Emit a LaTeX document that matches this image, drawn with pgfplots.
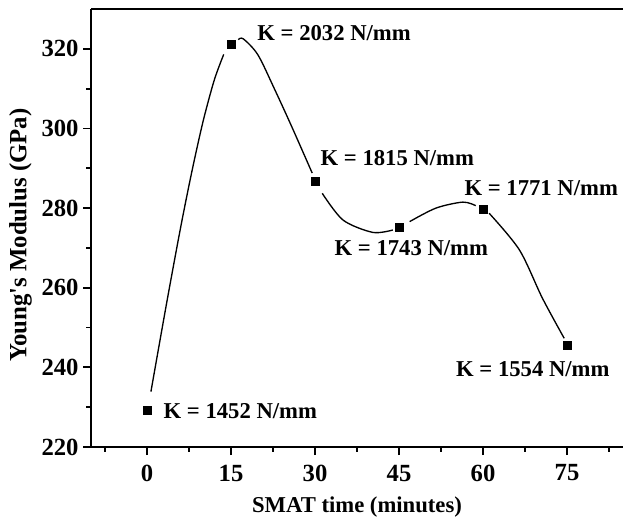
\documentclass[border=0pt]{standalone}
\usepackage{fontspec}
\setmainfont{Liberation Serif}
\usepackage{pgfplots}
\pgfplotsset{compat=1.18}

\begin{document}
\begin{tikzpicture}
\fontsize{17}{20}\selectfont\bfseries
\begin{axis}[
    scale only axis,
    width=399pt, height=328.5pt,
    xmin=-10, xmax=85,
    ymin=220, ymax=330,
    axis lines=left,
    axis line style={-, line width=1.4pt},
    xtick={0,15,30,45,60,75},
    minor xtick={-7.5,7.5,22.5,37.5,52.5,67.5,82.5},
    ytick={220,240,260,280,300,320},
    minor ytick={230,250,270,290,310},
    tick align=outside,
    major tick length=6pt,
    minor tick length=3.5pt,
    every tick/.style={black, line width=1.4pt},
    ticklabel style={font=\fontsize{18.5}{20}\selectfont\bfseries},
    /pgf/number format/assume math mode=true,
    xticklabel style={yshift=-1.5pt},
    yticklabel style={xshift=2.5pt},
    clip=false,
  ]
  % curve (drawn in pieces, gaps around markers as in the original)
  \addplot[smooth, line width=1pt] coordinates {
    (0.7,233.9) (3.5,256.1) (6.0,275.1) (8.0,289.1) (10.0,301.7) (12.0,312.1) (13.7,318.6)
  };
  \addplot[smooth, line width=1pt] coordinates {
    (16.3,322.3) (17.2,322.5) (19.8,318.5) (22.8,309.8) (25.8,300.6) (29.5,288.8)
  };
  \addplot[smooth, line width=1pt] coordinates {
    (31.3,283.7) (35.0,277.0) (40.3,273.9) (43.9,274.5)
  };
  \addplot[smooth, line width=1pt] coordinates {
    (46.9,276.6) (51.6,280.0) (56.4,281.5) (58.7,280.6)
  };
  \addplot[smooth, line width=1pt] coordinates {
    (61.1,278.7) (66.5,269.5) (70.6,257.4) (74.5,247.3)
  };
  % measured points
  \addplot[only marks, mark=square*, mark size=3pt, black] coordinates {
    (0,229.3) (15,321.1) (30,286.8) (45,275.2) (60,279.7) (75,245.5)
  };
  \draw[line width=1.4pt] (rel axis cs:0,1) -- (rel axis cs:1,1);

  \node at (axis cs:16.66,228.9) {K = 1452 N/mm};
  \node at (axis cs:33.4,323.9) {K = 2032 N/mm};
  \node at (axis cs:44.7,292.5) {K = 1815 N/mm};
  \node at (axis cs:47.2,269.9) {K = 1743 N/mm};
  \node at (axis cs:70.4,285.0) {K = 1771 N/mm};
  \node at (axis cs:68.9,239.5) {K = 1554 N/mm};

  \node at (axis cs:37.5,205.0) {SMAT time (minutes)};
  \node[rotate=90, font=\fontsize{18.6}{20}\selectfont\bfseries] at (axis cs:-22.6,273.2) {Young\textquotesingle s Modulus (GPa)};

  \coordinate (sw) at (rel axis cs:0,0);
  \coordinate (ne) at (rel axis cs:1,1);
\end{axis}
\pgfresetboundingbox
\path ([xshift=-68.25pt,yshift=-55.5pt]sw) rectangle ([yshift=6.75pt]ne);
\end{tikzpicture}
\end{document}
